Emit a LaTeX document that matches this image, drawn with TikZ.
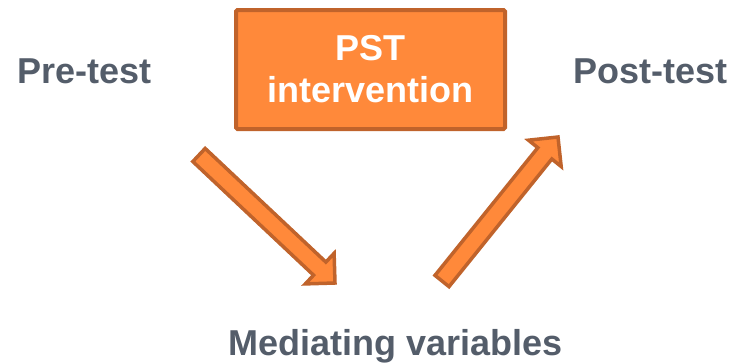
\documentclass[tikz,border=0pt]{standalone}
\usepackage{fontspec}
\setmainfont{Liberation Sans}
\usetikzlibrary{calc}

\definecolor{labelgrey}{RGB}{84,93,106}
\definecolor{boxfill}{RGB}{255,137,58}
\definecolor{boxline}{RGB}{192,99,43}

\tikzset{
  stagelabel/.style={inner sep=0pt, text=labelgrey, font=\fontsize{36}{42}\selectfont\bfseries},
  stepbox/.style={draw=boxline, fill=boxfill, line width=4pt, rounded corners=1.5pt,
    minimum width=269pt, minimum height=119pt, inner sep=0pt, align=center,
    text=white, font=\fontsize{36}{42}\selectfont\bfseries},
  blockarrow/.style={draw=boxline, fill=boxfill, line width=3.5pt, line join=miter}
}

% Block arrow from tail coordinate #1 to tip coordinate #2
% (shaft half-width 9pt, head half-width 21pt, head length 21pt)
\newcommand\fatarrow[2]{%
  \coordinate (#1-b) at ($(#2)!21pt!(#1)$);
  \draw[blockarrow]
    ($(#1)!9pt!90:(#2)$) --
    ($(#1-b)!9pt!-90:(#1)$) --
    ($(#1-b)!21pt!-90:(#1)$) --
    (#2) --
    ($(#1-b)!21pt!90:(#1)$) --
    ($(#1-b)!9pt!90:(#1)$) --
    ($(#1)!9pt!-90:(#2)$) -- cycle;
}

\begin{document}
\begin{tikzpicture}[x=1pt, y=-1pt]
  \useasboundingbox (0,0) rectangle (747,362);

  \node[stagelabel, anchor=base west] (pre) at (17,83) {Pre-test};
  \node[stagelabel, anchor=base west] (post) at (573,83) {Post-test};
  \node[stagelabel, anchor=base west] (med) at (228,355) {Mediating variables};

  \node[stepbox] (pst) at (370.5,69.5) {PST\\intervention};

  \coordinate (a1t) at (199,155);
  \coordinate (a1h) at (335,283);
  \coordinate (a2t) at (442,281);
  \coordinate (a2h) at (558,137);

  \fatarrow{a1t}{a1h}
  \fatarrow{a2t}{a2h}
\end{tikzpicture}
\end{document}
